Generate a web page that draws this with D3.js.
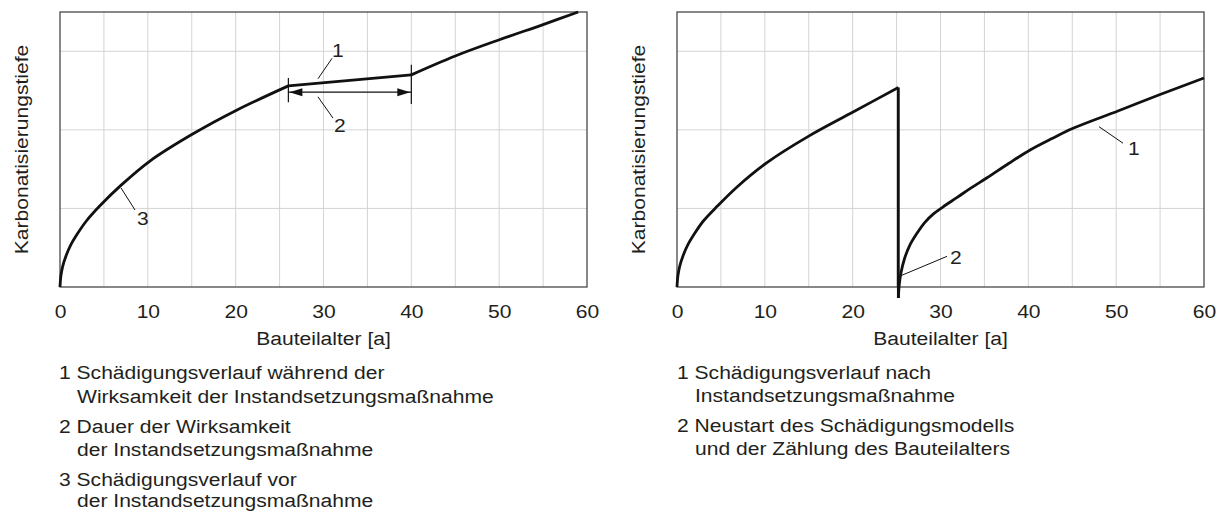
<!DOCTYPE html>
<html>
<head>
<meta charset="utf-8">
<script src="https://cdn.jsdelivr.net/npm/d3@7"></script>
<style>
  html, body { margin: 0; padding: 0; background: #fff; }
  svg { display: block; font-family: "Liberation Sans", Arial, Helvetica, sans-serif; }
</style>
</head>
<body>
<svg id="chart" width="1223" height="511"></svg>
<script>
// Age axis ticks (years) and depth grid levels (arbitrary units)
const ageTicks = [0, 10, 20, 30, 40, 50, 60];
const ageGrid = [5, 10, 15, 20, 25, 30, 35, 40, 45, 50, 55];
const depthGrid = [1, 2, 3];

// Left panel: damage before repair, while the repair works, and afterwards
const leftBefore = [[0, 0], [0.1, 0.14], [0.3, 0.26], [0.7, 0.40], [1.2, 0.53], [2, 0.68], [3, 0.84],
  [4.6, 1.04], [6.9, 1.29], [10.2, 1.60], [15, 1.94], [20.1, 2.25], [26, 2.56]];
const leftDuring = [[26, 2.56], [40, 2.70]];
const leftAfter = [[40, 2.70], [45, 2.94], [50.1, 3.15], [55, 3.34], [59, 3.5]];

// Right panel: damage until repair, then restart of the model
const rightBefore = [[0, 0], [0.1, 0.14], [0.3, 0.26], [0.7, 0.40], [1.2, 0.53], [2, 0.68], [3, 0.84],
  [4.6, 1.03], [6.9, 1.28], [10.2, 1.58], [15, 1.92], [20.1, 2.23], [25.2, 2.54]];
const rightDrop = [[25.2, 2.54], [25.2, -0.14]];
const rightAfter = [[25.2, -0.14], [25.3, 0.02], [25.5, 0.18], [25.9, 0.36], [26.5, 0.53], [27.3, 0.68],
  [28.2, 0.82], [29.2, 0.93], [30.3, 1.02], [31.9, 1.14], [33.4, 1.255], [35.3, 1.39], [37.8, 1.575],
  [40.3, 1.75], [42.7, 1.89], [45.1, 2.02], [50.2, 2.24], [55, 2.45], [60, 2.66]];

// Legend texts
const leftLegend = [
  ["1", "Schädigungsverlauf während der", "Wirksamkeit der Instandsetzungsmaßnahme"],
  ["2", "Dauer der Wirksamkeit", "der Instandsetzungsmaßnahme"],
  ["3", "Schädigungsverlauf vor", "der Instandsetzungsmaßnahme"]
];
const rightLegend = [
  ["1", "Schädigungsverlauf nach", "Instandsetzungsmaßnahme"],
  ["2", "Neustart des Schädigungsmodells", "und der Zählung des Bauteilalters"]
];

const xTitle = "Bauteilalter [a]";
const yTitle = "Karbonatisierungstiefe";

const svg = d3.select("#chart");
const TEXT = "#231f20";
const INK = "#111";
const FONT = 18;
const plotTop = 12, plotBottom = 287;

function panel(x0, x1) {
  const x = d3.scaleLinear().domain([0, 60]).range([x0, x1]);
  const y = d3.scaleLinear().domain([0, 3.5]).range([plotBottom, plotTop]);
  const g = svg.append("g");

  // grid
  g.append("g").selectAll("line").data(ageGrid).join("line")
    .attr("x1", d => x(d)).attr("x2", d => x(d)).attr("y1", plotTop).attr("y2", plotBottom)
    .attr("stroke", "#d4d4d4").attr("stroke-width", 1);
  g.append("g").selectAll("line").data(depthGrid).join("line")
    .attr("x1", x0).attr("x2", x1).attr("y1", d => y(d)).attr("y2", d => y(d))
    .attr("stroke", "#d4d4d4").attr("stroke-width", 1);

  // frame
  g.append("rect").attr("x", x0).attr("y", plotTop).attr("width", x1 - x0).attr("height", plotBottom - plotTop)
    .attr("fill", "none").attr("stroke", "#3a3a3a").attr("stroke-width", 1.2);

  // bottom axis: labels only
  const ax = g.append("g").attr("transform", `translate(0,${plotBottom})`)
    .call(d3.axisBottom(x).tickValues(ageTicks).tickSize(0).tickPadding(0));
  ax.select(".domain").remove();
  ax.attr("font-family", null).attr("font-size", FONT);
  ax.selectAll("text").attr("y", 31).attr("dy", null).attr("fill", TEXT);

  g.append("text").attr("x", (x0 + x1) / 2).attr("y", 345).attr("text-anchor", "middle")
    .attr("font-size", FONT).attr("fill", TEXT).text(xTitle);
  g.append("text").attr("transform", `translate(${x0 - 32},${(plotTop + plotBottom) / 2}) rotate(-90)`)
    .attr("text-anchor", "middle").attr("font-size", FONT).attr("fill", TEXT).text(yTitle);

  return { g, x, y };
}

function curve(p, data, kind) {
  const line = d3.line().x(d => p.x(d[0])).y(d => p.y(d[1]))
    .curve(kind || d3.curveCatmullRom.alpha(0.5));
  p.g.append("path").attr("d", line(data)).attr("fill", "none")
    .attr("stroke", INK).attr("stroke-width", 2.8).attr("stroke-linejoin", "miter");
}

function leader(p, a, b, label, lx, ly) {
  p.g.append("line").attr("x1", p.x(a[0])).attr("y1", p.y(a[1]))
    .attr("x2", p.x(b[0])).attr("y2", p.y(b[1]))
    .attr("stroke", INK).attr("stroke-width", 1);
  p.g.append("text").attr("x", p.x(b[0]) + lx).attr("y", p.y(b[1]) + ly)
    .attr("font-size", FONT).attr("fill", TEXT).text(label);
}

function legend(items, x, baselines) {
  const g = svg.append("g").attr("font-size", FONT).attr("fill", TEXT);
  items.forEach((it, i) => {
    g.append("text").attr("x", x).attr("y", baselines[i * 2]).text(it[0] + " " + it[1]);
    g.append("text").attr("x", x + 18).attr("y", baselines[i * 2 + 1]).text(it[2]);
  });
}

// ---- left panel
const L = panel(60, 587);
curve(L, leftBefore);
curve(L, leftDuring, d3.curveLinear);
curve(L, leftAfter);

// effective duration dimension line
const dimY = 2.48;
[[26, 2.66, 2.35], [40, 2.83, 2.33]].forEach(([t, a, b]) => {
  L.g.append("line").attr("x1", L.x(t)).attr("x2", L.x(t)).attr("y1", L.y(a)).attr("y2", L.y(b))
    .attr("stroke", INK).attr("stroke-width", 1.2);
});
L.g.append("line").attr("x1", L.x(26)).attr("x2", L.x(40)).attr("y1", L.y(dimY)).attr("y2", L.y(dimY))
  .attr("stroke", INK).attr("stroke-width", 1.2);
function arrowHead(tipX, dir, yy) {
  L.g.append("path")
    .attr("d", `M${tipX},${yy} L${tipX + dir * 13},${yy - 4} L${tipX + dir * 13},${yy + 4} Z`)
    .attr("fill", INK);
}
arrowHead(L.x(26) + 1, 1, L.y(dimY));
arrowHead(L.x(40) - 1, -1, L.y(dimY));

leader(L, [29.37, 2.65], [30.97, 2.91], "1", 0, -1);
leader(L, [29.37, 2.42], [31.08, 2.15], "2", 1, 14);
leader(L, [6.95, 1.26], [8.54, 0.98], "3", 2, 15);

legend(leftLegend, 59, [379, 403, 433, 456, 486, 507]);

// ---- right panel
const R = panel(677, 1204);
curve(R, rightBefore);
curve(R, rightDrop, d3.curveLinear);
curve(R, rightAfter);

leader(R, [48.05, 2.04], [50.78, 1.83], "1", 5, 12);
leader(R, [25.62, 0.15], [30.74, 0.39], "2", 3, 8);

legend(rightLegend, 677, [379, 402, 432, 455]);

// The typeface is set wide: stretch every label horizontally along its run
svg.selectAll("text").each(function () {
  const w = this.getComputedTextLength();
  d3.select(this).attr("textLength", w * 1.17).attr("lengthAdjust", "spacingAndGlyphs");
});
</script>
</body>
</html>
